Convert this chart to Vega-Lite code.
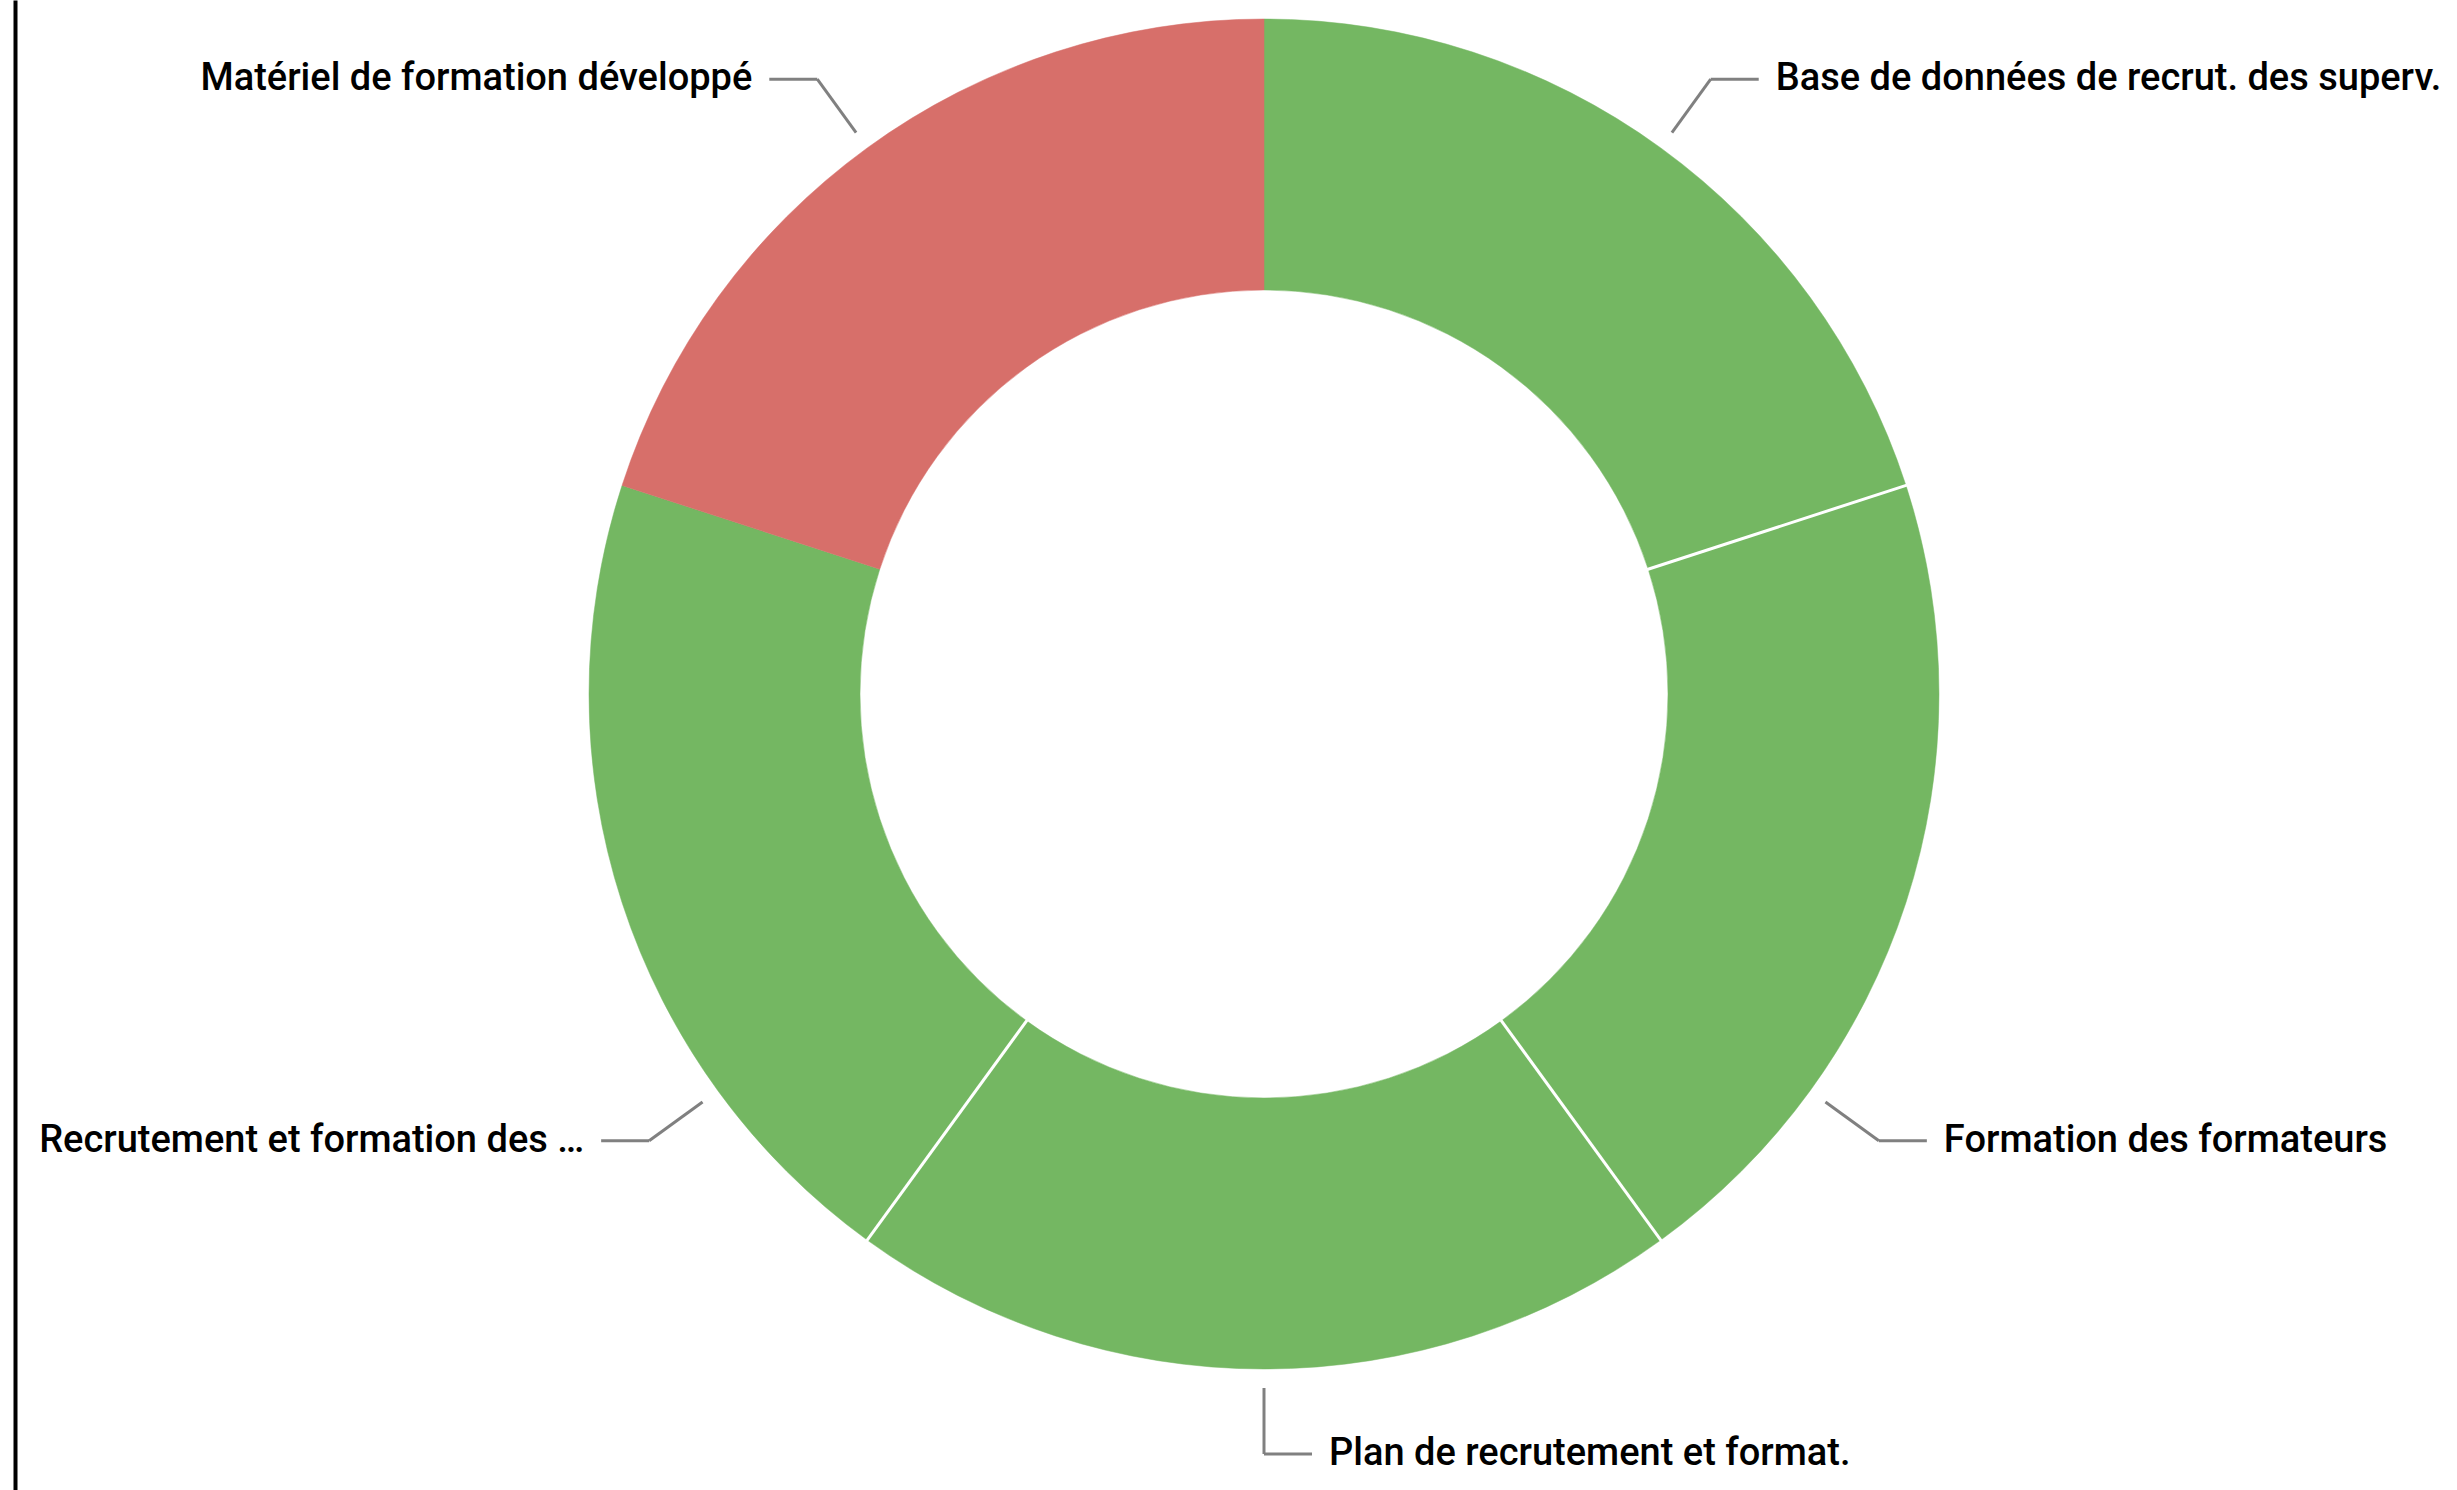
{
  "$schema": "https://vega.github.io/schema/vega-lite/v6.json",
  "width": 2442,
  "height": 1490,
  "autosize": {"type": "none"},
  "padding": {"left": 15, "top": 0, "right": 0, "bottom": 0},
  "background": "white",
  "config": {
    "view": {"stroke": null},
    "axisY": {"domain": true, "domainColor": "#000000", "domainWidth": 4, "ticks": false, "labels": false, "grid": false}
  },
  "data": {
    "values": [
      {"tache": "Base de données de recrut. des superv.", "valeur": 1, "statut": "vert", "ordre": 1},
      {"tache": "Formation des formateurs", "valeur": 1, "statut": "vert", "ordre": 2},
      {"tache": "Plan de recrutement et format.", "valeur": 1, "statut": "vert", "ordre": 3},
      {"tache": "Recrutement et formation des …", "valeur": 1, "statut": "vert", "ordre": 4},
      {"tache": "Matériel de formation développé", "valeur": 1, "statut": "rouge", "ordre": 5}
    ]
  },
  "transform": [
    {"window": [{"op": "sum", "field": "valeur", "as": "cumul"}, {"op": "lead", "field": "statut", "as": "suivant"}], "sort": [{"field": "ordre"}], "frame": [null, 0]},
    {"joinaggregate": [{"op": "sum", "field": "valeur", "as": "total"}]},
    {"calculate": "2*PI*(datum.cumul - datum.valeur/2)/datum.total", "as": "milieu"},
    {"calculate": "2*PI*datum.cumul/datum.total", "as": "bord"},
    {"calculate": "datum.milieu + ((cos(datum.milieu) < 0 && abs(sin(datum.milieu)) > 0.5) ? (sin(datum.milieu) > 0 ? 1 : -1) * PI * datum.valeur / (2*datum.total) : 0)", "as": "angle"},
    {"calculate": "sin(datum.angle) > -0.000001 ? 1 : -1", "as": "cote"},
    {"calculate": "694*sin(datum.angle)", "as": "xa"},
    {"calculate": "694*cos(datum.angle)", "as": "ya"},
    {"calculate": "760*sin(datum.angle)", "as": "xb"},
    {"calculate": "760*cos(datum.angle)", "as": "yb"},
    {"calculate": "datum.xb + datum.cote*48", "as": "xc"},
    {"calculate": "datum.xc + datum.cote*17", "as": "xt"},
    {"calculate": "403*sin(datum.bord)", "as": "xs1"},
    {"calculate": "403*cos(datum.bord)", "as": "ys1"},
    {"calculate": "676*sin(datum.bord)", "as": "xs2"},
    {"calculate": "676*cos(datum.bord)", "as": "ys2"}
  ],
  "layer": [
    {
      "mark": {"type": "arc", "outerRadius": 675, "innerRadius": 404, "strokeWidth": 0.5},
      "encoding": {
        "theta": {"field": "valeur", "type": "quantitative", "stack": true},
        "order": {"field": "ordre", "type": "quantitative"},
        "color": {"field": "statut", "type": "nominal", "scale": {"domain": ["vert", "rouge"], "range": ["#74B762", "#D76F6A"]}, "legend": null},
        "stroke": {"field": "statut", "type": "nominal", "scale": {"domain": ["vert", "rouge"], "range": ["#74B762", "#D76F6A"]}, "legend": null},
        "x": {"datum": 0, "type": "quantitative", "scale": {"domain": [-1249, 1193], "nice": false, "zero": false}, "axis": null},
        "y": {"datum": 0, "type": "quantitative", "scale": {"domain": [-796, 694], "nice": false, "zero": false}, "axis": {"title": null}}
      }
    },
    {
      "transform": [{"filter": "datum.statut === 'vert' && datum.suivant === 'vert'"}],
      "mark": {"type": "rule", "color": "#FFFFFF", "strokeWidth": 3},
      "encoding": {
        "x": {"field": "xs1", "type": "quantitative", "axis": null},
        "y": {"field": "ys1", "type": "quantitative", "axis": {"title": null}},
        "x2": {"field": "xs2"},
        "y2": {"field": "ys2"}
      }
    },
    {
      "mark": {"type": "rule", "color": "#808080", "strokeWidth": 3},
      "encoding": {
        "x": {"field": "xa", "type": "quantitative", "axis": null},
        "y": {"field": "ya", "type": "quantitative", "axis": {"title": null}},
        "x2": {"field": "xb"},
        "y2": {"field": "yb"}
      }
    },
    {
      "mark": {"type": "rule", "color": "#808080", "strokeWidth": 3},
      "encoding": {
        "x": {"field": "xb", "type": "quantitative", "axis": null},
        "y": {"field": "yb", "type": "quantitative", "axis": {"title": null}},
        "x2": {"field": "xc"},
        "y2": {"field": "yb"}
      }
    },
    {
      "transform": [{"filter": "datum.cote > 0"}],
      "mark": {"type": "text", "align": "left", "baseline": "middle", "font": "Roboto", "fontSize": 38, "fontWeight": 500, "color": "#000000"},
      "encoding": {
        "x": {"field": "xt", "type": "quantitative", "axis": null},
        "y": {"field": "yb", "type": "quantitative", "axis": {"title": null}},
        "text": {"field": "tache", "type": "nominal"}
      }
    },
    {
      "transform": [{"filter": "datum.cote < 0"}],
      "mark": {"type": "text", "align": "right", "baseline": "middle", "font": "Roboto", "fontSize": 38, "fontWeight": 500, "color": "#000000"},
      "encoding": {
        "x": {"field": "xt", "type": "quantitative", "axis": null},
        "y": {"field": "yb", "type": "quantitative", "axis": {"title": null}},
        "text": {"field": "tache", "type": "nominal"}
      }
    }
  ]
}
